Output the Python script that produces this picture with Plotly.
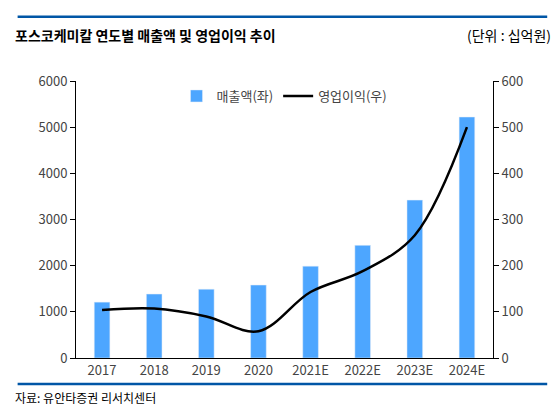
import plotly.graph_objects as go

years = ["2017", "2018", "2019", "2020", "2021E", "2022E", "2023E", "2024E"]
sales = [1210, 1385, 1490, 1580, 1990, 2440, 3420, 5220]
op_income = [104, 107, 90, 58, 143, 188, 266, 500]

F = "Noto Sans CJK KR"
fig = go.Figure()
fig.add_bar(x=years, y=sales, name="매출액(좌)", marker_color="#4DA6FF", width=0.3)
fig.add_scatter(x=years, y=op_income, name="영업이익(우)", yaxis="y2", mode="lines",
                line=dict(color="black", width=2.5, shape="spline", smoothing=1.0))

ax = dict(showgrid=False, showline=True, linecolor="black", linewidth=1, ticks="outside",
          ticklen=5, tickcolor="black", tickfont=dict(family=F, size=13, color="#444"))
fig.update_layout(
    width=552, height=410, paper_bgcolor="white", plot_bgcolor="white",
    margin=dict(l=68, r=67, t=73, b=60, autoexpand=False),
    font=dict(family=F),
    xaxis=dict(showline=True, linecolor="black", ticks="", tickfont=dict(family=F, size=13, color="#444")),
    yaxis=dict(range=[0, 6000], dtick=1000, **ax),
    yaxis2=dict(range=[0, 600], dtick=100, overlaying="y", side="right", **ax),
    legend=dict(orientation="h", x=0.5, xanchor="center", y=1.0, yanchor="top",
                font=dict(family=F, size=13, color="#444"), bgcolor="rgba(0,0,0,0)"),
    showlegend=True,
    shapes=[
        dict(type="line", xref="paper", yref="paper", x0=-0.14, x1=1.13, y0=1.232, y1=1.232,
             line=dict(color="#0056A6", width=2.5)),
        dict(type="line", xref="paper", yref="paper", x0=-0.14, x1=1.13, y0=-0.094, y1=-0.094,
             line=dict(color="#0056A6", width=2.5)),
    ],
    annotations=[
        dict(text="<b>포스코케미칼 연도별 매출액 및 영업이익 추이</b>", xref="paper", yref="paper",
             x=-0.15, y=1.21, xanchor="left", yanchor="top", showarrow=False,
             font=dict(family=F, size=14, color="black")),
        dict(text="(단위 : 십억원)", xref="paper", yref="paper", x=1.145, y=1.21,
             xanchor="right", yanchor="top", showarrow=False,
             font=dict(family=F, size=14, color="black")),
        dict(text="자료: 유안타증권 리서치센터", xref="paper", yref="paper", x=-0.15, y=-0.105,
             xanchor="left", yanchor="top", showarrow=False,
             font=dict(family=F, size=12, color="black")),
    ],
)
fig.write_html("out.html")
